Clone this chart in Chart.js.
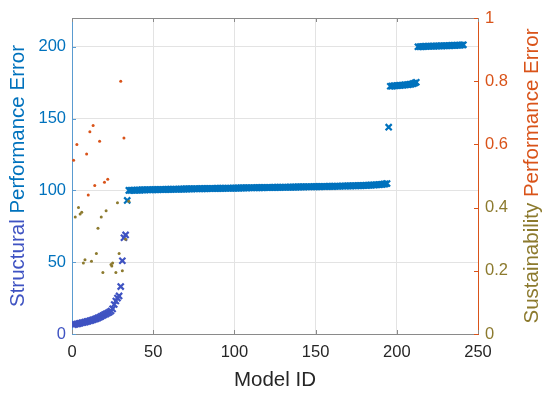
<!DOCTYPE html>
<html><head><meta charset="utf-8">
<script src="https://cdn.jsdelivr.net/npm/chart.js@4/dist/chart.umd.min.js"></script>
<style>html,body{margin:0;padding:0;background:#fff}</style>
</head><body>
<canvas id="c" width="550" height="395"></canvas>
<script>
// ---- data ----
const structuralHead = [6.5,6.8,7.0,7.2,7.5,7.8,8.0,8.3,8.6,8.9,9.2,9.5,9.9,10.3,10.7,11.2,11.7,12.3,12.9,13.5,14.0,14.6,15.2,16.0,17.5,20.5,23.0,25.0,26.5,33.0,51.0,67.0,69.0,93.0];
const structuralPlateau = [
100.0,100.0,100.1,100.1,100.1,100.2,100.2,100.2,100.3,100.3,100.3,100.4,100.4,100.4,100.4,100.5,100.5,100.5,100.5,100.6,
100.6,100.6,100.6,100.7,100.7,100.7,100.7,100.8,100.8,100.8,100.8,100.9,100.9,100.9,100.9,101.0,101.0,101.0,101.0,101.0,
101.1,101.1,101.1,101.1,101.2,101.2,101.2,101.2,101.2,101.3,101.3,101.3,101.3,101.3,101.4,101.4,101.4,101.4,101.4,101.5,
101.5,101.5,101.5,101.5,101.6,101.6,101.6,101.6,101.6,101.7,101.7,101.7,101.7,101.7,101.8,101.8,101.8,101.8,101.8,101.9,
101.9,101.9,101.9,101.9,102.0,102.0,102.0,102.0,102.0,102.1,102.1,102.1,102.1,102.1,102.2,102.2,102.2,102.2,102.2,102.3,
102.3,102.3,102.3,102.3,102.4,102.4,102.4,102.4,102.4,102.5,102.5,102.5,102.5,102.5,102.6,102.6,102.6,102.6,102.6,102.7,
102.7,102.7,102.7,102.8,102.8,102.8,102.8,102.9,102.9,102.9,102.9,103.0,103.0,103.0,103.0,103.1,103.1,103.1,103.2,103.2,
103.2,103.3,103.3,103.3,103.4,103.4,103.5,103.5,103.6,103.6,103.7,103.7,103.8,103.9,104.0,104.1,104.2,104.3,104.5,104.8];
const structuralSpike = [144.0];
const structuralBand173 = [172.5,172.6,172.7,172.8,172.9,173.0,173.1,173.2,173.3,173.4,173.5,173.6,173.8,174.0,174.3,174.7,175.3];
const structuralBand200 = [200.0,200.0,200.1,200.1,200.2,200.2,200.3,200.3,200.3,200.4,200.4,200.5,200.5,200.5,200.6,200.6,200.7,200.7,200.7,200.8,200.8,200.9,200.9,200.9,201.0,201.0,201.1,201.2,201.3];
const structural = [].concat(structuralHead, structuralPlateau, structuralSpike, structuralBand173, structuralBand200);
const modelIds = structural.map((_, i) => i + 1);

const susModel = [30,13,11,17,3,32,9,1,14,20,22,10, 4,2,5,6,28,21,18,16,35,33,8,7,12,15,19,24,25,24.5,29,27,31];
const susValue = [0.80,0.66,0.64,0.61,0.60,0.62,0.57,0.55,0.47,0.48,0.49,0.44, 0.40,0.37,0.38,0.385,0.415,0.39,0.37,0.335,0.42,0.30,0.235,0.225,0.23,0.255,0.195,0.22,0.225,0.215,0.255,0.195,0.20];

const xTicks = [0,50,100,150,200,250];
const leftTicks = [0,50,100,150,200];
const rightTicks = [0,0.2,0.4,0.6,0.8,1];
const xTitle = 'Model ID';
const leftTitle = ['Structural ', 'Performance Error'];
const rightTitle = ['Sustainability ', 'Performance Error'];

// ---- styles ----
const BLUE = '#0072BD', PURPLE = '#3F53C2', ORANGE = '#D95319', OLIVE = '#8C7A2E';
const FONT = '"Liberation Sans", Arial, Helvetica, sans-serif';

const decor = {
  id: 'decor',
  afterDraw(chart) {
    const {ctx, chartArea: a, scales} = chart;
    ctx.save();
    ctx.lineWidth = 1;
    ctx.strokeStyle = '#8a8a8a';
    ctx.beginPath(); ctx.moveTo(a.left, a.top + 0.5); ctx.lineTo(a.right, a.top + 0.5); ctx.stroke();
    xTicks.forEach(v => {
      const px = Math.round(scales.x.getPixelForValue(v)) + 0.5;
      ctx.beginPath();
      ctx.moveTo(px, a.bottom); ctx.lineTo(px, a.bottom - 4);
      ctx.moveTo(px, a.top); ctx.lineTo(px, a.top + 4);
      ctx.stroke();
    });
    ctx.strokeStyle = '#5a9bd0';
    leftTicks.forEach(v => {
      const py = Math.round(scales.y.getPixelForValue(v)) + 0.5;
      ctx.beginPath(); ctx.moveTo(a.left, py); ctx.lineTo(a.left + 4, py); ctx.stroke();
    });
    ctx.strokeStyle = ORANGE;
    rightTicks.forEach(v => {
      const py = Math.round(scales.y1.getPixelForValue(v)) + 0.5;
      ctx.beginPath(); ctx.moveTo(a.right, py); ctx.lineTo(a.right - 4, py); ctx.stroke();
    });
    // titles
    ctx.font = '20.5px ' + FONT;
    ctx.fillStyle = '#262626';
    ctx.textAlign = 'center'; ctx.textBaseline = 'middle';
    ctx.fillText(xTitle, (a.left + a.right) / 2, 380);
    const split = (cx, parts, colors) => {
      ctx.save();
      ctx.translate(cx, (a.top + a.bottom) / 2);
      ctx.rotate(-Math.PI / 2);
      ctx.textAlign = 'left';
      const total = parts.reduce((s, p) => s + ctx.measureText(p).width, 0);
      let x = -total / 2;
      parts.forEach((p, i) => { ctx.fillStyle = colors[i]; ctx.fillText(p, x, 0); x += ctx.measureText(p).width; });
      ctx.restore();
    };
    split(18, leftTitle, [PURPLE, BLUE]);
    split(532, rightTitle, [OLIVE, ORANGE]);
    ctx.restore();
  }
};

new Chart(document.getElementById('c'), {
  type: 'scatter',
  data: {
    datasets: [
      {
        data: modelIds.map((m, i) => ({x: m, y: structural[i]})),
        yAxisID: 'y',
        pointStyle: 'crossRot',
        pointRadius: 4.3,
        borderWidth: 2.2,
        borderColor: c => (c.raw && c.raw.y < 85 ? PURPLE : BLUE),
        backgroundColor: BLUE,
        order: 2
      },
      {
        data: susModel.map((m, i) => ({x: m, y: susValue[i]})),
        yAxisID: 'y1',
        pointStyle: 'circle',
        pointRadius: 1.5,
        borderWidth: 0,
        backgroundColor: c => (c.raw && c.raw.y >= 0.43 ? ORANGE : OLIVE),
        borderColor: 'rgba(0,0,0,0)',
        order: 1
      }
    ]
  },
  options: {
    responsive: false,
    animation: false,
    events: [],
    layout: {padding: {top: 18, left: 0, right: 0, bottom: 0}},
    plugins: {legend: {display: false}, tooltip: {enabled: false}},
    scales: {
      x: {
        type: 'linear', min: 0, max: 250,
        afterBuildTicks: s => { s.ticks = xTicks.map(v => ({value: v})); },
        afterFit: s => { s.height = 61; },
        grid: {color: '#e3e3e3', drawTicks: false},
        border: {color: '#8a8a8a'},
        ticks: {color: '#262626', padding: 9, font: {family: FONT, size: 16.5}, maxRotation: 0}
      },
      y: {
        type: 'linear', position: 'left', min: 0, max: 220,
        afterBuildTicks: s => { s.ticks = leftTicks.map(v => ({value: v})); },
        afterFit: s => { s.width = 72; },
        grid: {color: '#e3e3e3', drawTicks: false},
        border: {color: '#5a9bd0'},
        ticks: {color: c => (c.tick && c.tick.value === 0 ? PURPLE : BLUE), padding: 6, font: {family: FONT, size: 16.5}}
      },
      y1: {
        type: 'linear', position: 'right', min: 0, max: 1,
        afterBuildTicks: s => { s.ticks = rightTicks.map(v => ({value: v})); },
        afterFit: s => { s.width = 72; },
        grid: {display: false, drawTicks: false},
        border: {color: ORANGE},
        ticks: {color: c => (c.tick && c.tick.value < 0.5 ? OLIVE : ORANGE), padding: 7, font: {family: FONT, size: 16.5},
                callback: v => String(Math.round(v * 10) / 10)}
      }
    }
  },
  plugins: [decor]
});
</script>
</body></html>
